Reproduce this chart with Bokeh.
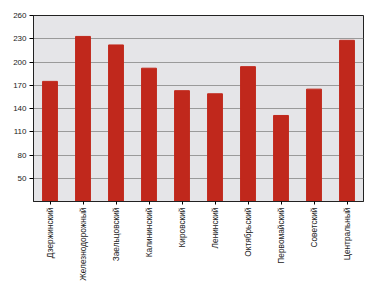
from bokeh.plotting import figure
from bokeh.models import FactorRange, Range1d, FixedTicker
from bokeh.embed import file_html
from bokeh.resources import INLINE
import math

districts = ["Дзержинский", "Железнодорожный", "Заельцовский", "Калининский",
             "Кировский", "Ленинский", "Октябрьский", "Первомайский",
             "Советский", "Центральный"]
values = [175, 233, 222, 192, 163, 159, 194, 131, 165, 228]
y_ticks = [50, 80, 110, 140, 170, 200, 230, 260]

p = figure(x_range=FactorRange(*districts), y_range=Range1d(20, 260),
           width=375, height=288, output_backend="svg", toolbar_location=None,
           min_border_left=33, min_border_right=12, min_border_top=15,
           min_border_bottom=87)
p.background_fill_color = "#e5e5e8"
p.border_fill_color = "white"
p.outline_line_color = "#222222"
p.outline_line_width = 1

p.vbar(x=districts, top=values, bottom=20, width=0.45, color="#c0281c")

p.xgrid.grid_line_color = None
p.ygrid.grid_line_color = "#9a9a9a"
p.ygrid.ticker = FixedTicker(ticks=y_ticks)

p.yaxis.ticker = FixedTicker(ticks=y_ticks)
p.yaxis.major_tick_out = 4
p.yaxis.major_tick_in = 0
p.yaxis.minor_tick_line_color = None
p.yaxis.major_label_text_font = "Liberation Sans"
p.yaxis.major_label_text_font_size = "8px"
p.yaxis.major_label_text_color = "#222222"
p.yaxis.axis_line_color = "#222222"
p.yaxis.major_label_standoff = 3

p.xaxis.major_label_orientation = math.pi / 2
p.xaxis.major_label_text_font = "Liberation Sans"
p.xaxis.major_label_text_font_size = "8.3px"
p.xaxis.major_label_text_color = "#222222"
p.xaxis.major_tick_out = 3
p.xaxis.major_tick_in = 0
p.xaxis.axis_line_color = "#222222"
p.xaxis.major_label_standoff = 3

open("out.html", "w").write(file_html(p, INLINE))
